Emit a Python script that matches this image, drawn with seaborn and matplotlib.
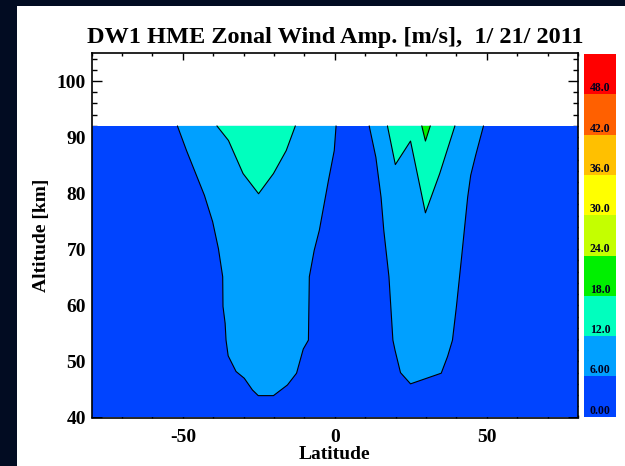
import numpy as np
import seaborn as sns
import matplotlib
matplotlib.use("Agg")
import matplotlib.pyplot as plt
from matplotlib.patches import Rectangle
from matplotlib.ticker import MultipleLocator

# data extent of the field
lat_range = [-80, 80]
alt_bottom = 40
alt_top = 92

# 6 m/s contour, southern blob
s6_lat = [-51.8, -48.8, -42.9, -40.2, -38.3, -36.9, -36.8, -36.1, -35.8, -35.1, -32.5,
          -29.8, -27.1, -25.2, -20.2, -15.6, -12.6, -10.4, -8.7, -8.4, -6.8, -5.1,
          -2.1, -0.2, 0.4]
s6_alt = [92.0, 87.6, 79.6, 74.9, 70.1, 65.1, 59.8, 56.8, 53.8, 51.0, 48.2,
          47.0, 44.9, 43.9, 43.9, 45.8, 47.9, 52.2, 53.8, 65.1, 69.8, 73.4,
          82.3, 87.6, 92.0]

# 12 m/s contour, southern blob
s12_lat = [-38.8, -35.0, -30.2, -25.1, -20.2, -16.0, -13.0]
s12_alt = [92.0, 89.4, 83.5, 79.9, 83.5, 87.6, 92.0]

# 6 m/s contour, northern blob
n6_lat = [11.3, 13.5, 15.2, 16.1, 17.8, 19.1, 19.8, 21.6, 24.9, 35.0, 37.1, 38.7,
          40.0, 41.7, 43.7, 44.7, 46.3, 48.9]
n6_alt = [92.0, 86.4, 79.3, 73.4, 65.1, 53.8, 52.0, 48.0, 46.0, 47.9, 50.9, 53.8,
          59.8, 68.6, 79.3, 83.2, 86.7, 92.0]

# 12 m/s contour, northern blob
n12_lat = [17.3, 19.9, 24.9, 29.8, 34.5, 39.5]
n12_alt = [92.0, 85.1, 89.3, 76.5, 83.5, 92.0]

# 18 m/s contour, northern blob
n18_lat = [28.6, 29.8, 31.4]
n18_alt = [92.0, 89.3, 92.0]

# colour bar
levels = [0, 6, 12, 18, 24, 30, 36, 42, 48, 54]
level_colors = ["#0044ff", "#00a0ff", "#00ffbe", "#00f000", "#c4ff00",
                "#ffff00", "#ffc000", "#ff6000", "#ff0000"]
level_labels = ["0.00", "6.00", "12.0", "18.0", "24.0", "30.0", "36.0", "42.0", "48.0"]

sns.set_style("ticks")
plt.rcParams["font.family"] = ["Liberation Serif", "DejaVu Serif"]
plt.rcParams["font.weight"] = "bold"
plt.rcParams["text.color"] = "black"
plt.rcParams["axes.labelcolor"] = "black"
plt.rcParams["axes.unicode_minus"] = False

fig = plt.figure(figsize=(6.25, 4.66), dpi=100)
fig.patch.set_facecolor("#020c22")
fig.patches.append(Rectangle((17 / 625, 0), 1, 460 / 466, transform=fig.transFigure,
                             facecolor="white", edgecolor="none", zorder=-10))

ax = fig.add_axes([91.7 / 625, 1 - 417.5 / 466, 486.3 / 625, 364.5 / 466])
ax.set_facecolor("white")

# background level and filled contours
ax.fill_between(lat_range, alt_bottom, alt_top, color=level_colors[0], lw=0)
for lats, alts, col in [(s6_lat, s6_alt, level_colors[1]),
                        (n6_lat, n6_alt, level_colors[1]),
                        (s12_lat, s12_alt, level_colors[2]),
                        (n12_lat, n12_alt, level_colors[2]),
                        (n18_lat, n18_alt, level_colors[3])]:
    ax.fill(lats, alts, color=col, lw=0)
    sns.lineplot(x=lats, y=alts, sort=False, estimator=None, color="black",
                 lw=0.8, ax=ax)

ax.set_xlim(-80, 80)
ax.set_ylim(40, 105)
ax.set_xticks([-50, 0, 50])
ax.set_yticks([40, 50, 60, 70, 80, 90, 100])
ax.xaxis.set_minor_locator(MultipleLocator(10))
ax.yaxis.set_minor_locator(MultipleLocator(2))
ax.tick_params(axis="both", which="both", direction="in", top=True, right=True,
               colors="black", labelsize=14, width=1)
ax.tick_params(axis="x", which="major", length=5, pad=8)
ax.tick_params(axis="x", which="minor", length=2.5)
ax.tick_params(axis="y", which="major", length=7, pad=4)
ax.tick_params(axis="y", which="minor", length=3.5)
for s in ax.spines.values():
    s.set_linewidth(1.2)
    s.set_color("black")

ax.set_xlabel("Latitude", fontsize=14, fontweight="bold", labelpad=0)
ax.set_ylabel("Altitude [km]", fontsize=14, fontweight="bold", labelpad=5)
ax.set_title("DW1 HME Zonal Wind Amp. [m/s],  1/ 21/ 2011", fontsize=17.5,
             fontweight="bold", pad=7)

# colour bar
cax = fig.add_axes([584 / 625, 1 - 416.7 / 466, 32 / 625, 362.7 / 466])
heights = np.diff(levels)
cax.bar([0] * len(heights), heights, bottom=levels[:-1], width=1,
        color=level_colors, lw=0)
for lv, lab in zip(levels[:-1], level_labels):
    cax.text(0, lv, lab, ha="center", va="bottom", fontsize=8.5,
             fontweight="bold", color="#000020")
cax.set_xlim(-0.5, 0.5)
cax.set_ylim(levels[0], levels[-1])
cax.axis("off")

fig.savefig("out.png", dpi=100)
